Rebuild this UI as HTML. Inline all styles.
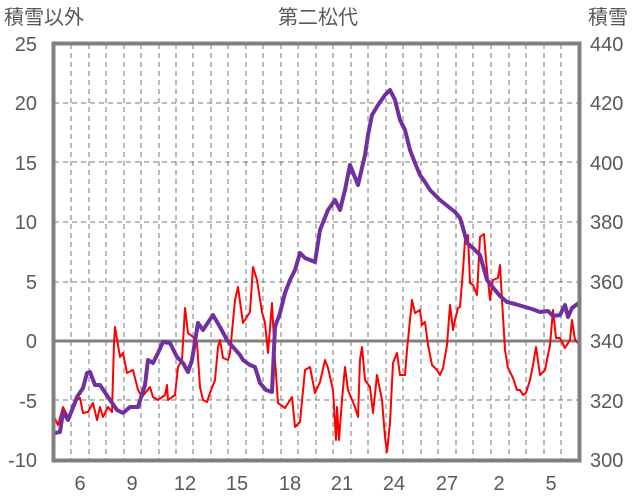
<!DOCTYPE html><html><head><meta charset="utf-8"><style>body{margin:0;background:#fff}svg{display:block}text{font-family:"Liberation Sans","Noto Sans CJK JP",sans-serif;fill:#595959}</style></head><body>
<svg width="636" height="501" viewBox="0 0 636 501">
<g stroke="#777" stroke-width="1" stroke-dasharray="5,4">
<line x1="71" y1="44" x2="71" y2="460"/><line x1="89" y1="44" x2="89" y2="460"/><line x1="106" y1="44" x2="106" y2="460"/><line x1="124" y1="44" x2="124" y2="460"/><line x1="141" y1="44" x2="141" y2="460"/><line x1="159" y1="44" x2="159" y2="460"/><line x1="176" y1="44" x2="176" y2="460"/><line x1="193" y1="44" x2="193" y2="460"/><line x1="211" y1="44" x2="211" y2="460"/><line x1="228" y1="44" x2="228" y2="460"/><line x1="246" y1="44" x2="246" y2="460"/><line x1="263" y1="44" x2="263" y2="460"/><line x1="281" y1="44" x2="281" y2="460"/><line x1="298" y1="44" x2="298" y2="460"/><line x1="316" y1="44" x2="316" y2="460"/><line x1="333" y1="44" x2="333" y2="460"/><line x1="351" y1="44" x2="351" y2="460"/><line x1="368" y1="44" x2="368" y2="460"/><line x1="386" y1="44" x2="386" y2="460"/><line x1="403" y1="44" x2="403" y2="460"/><line x1="421" y1="44" x2="421" y2="460"/><line x1="438" y1="44" x2="438" y2="460"/><line x1="456" y1="44" x2="456" y2="460"/><line x1="473" y1="44" x2="473" y2="460"/><line x1="491" y1="44" x2="491" y2="460"/><line x1="509" y1="44" x2="509" y2="460"/><line x1="526" y1="44" x2="526" y2="460"/><line x1="544" y1="44" x2="544" y2="460"/><line x1="561" y1="44" x2="561" y2="460"/>
<line x1="54" y1="103" x2="580" y2="103"/><line x1="54" y1="162" x2="580" y2="162"/><line x1="54" y1="222" x2="580" y2="222"/><line x1="54" y1="282" x2="580" y2="282"/><line x1="54" y1="400" x2="580" y2="400"/>
</g>
<line x1="54" y1="341" x2="580" y2="341" stroke="#808080" stroke-width="3"/>
<polyline fill="none" stroke="#ff0000" stroke-width="2" stroke-linejoin="round" points="53,415 58,425 63,407 68,417 73,410 77,400 80,398 83,413 88,412 93,403 97,420 100,407 103,417 108,407 112,412 114,343 115,327 118,345 120,357 123,353 127,373 133,370 138,390 142,397 150,387 153,397 158,400 165,395 167,385 168,400 175,395 178,367 182,360 185,308 188,333 193,337 197,343 200,387 203,400 207,402 210,393 215,380 218,347 220,340 223,358 228,360 230,353 235,300 238,287 243,323 250,312 253,267 257,280 262,312 265,323 268,353 272,303 275,360 278,403 285,408 292,397 295,427 300,422 305,370 310,367 315,393 320,382 325,360 328,368 333,390 336,440 337,407 339,440 342,400 345,367 348,390 355,407 358,417 360,360 362,347 365,380 370,387 373,413 377,375 382,400 385,437 387,452 390,423 393,363 397,353 400,375 405,375 407,350 412,300 415,313 420,310 422,325 425,322 428,345 432,365 437,370 440,375 443,368 447,345 450,305 453,330 455,320 458,308 460,307 463,270 465,240 468,235 470,283 473,285 477,295 480,237 484,234 486,260 490,300 493,280 498,278 500,265 502,300 505,350 508,368 513,378 517,390 520,390 523,395 526,393 530,380 533,365 536,347 540,375 545,370 550,345 553,310 556,338 560,338 565,348 570,340 572,320 575,340 580,345"/>
<polyline fill="none" stroke="#7030a0" stroke-width="4" stroke-linejoin="round" points="55,433 60,432 63,412 68,420 72,410 77,397 83,388 87,373 90,372 95,385 100,385 108,397 117,410 123,413 130,407 138,407 145,385 148,360 153,363 158,353 163,342 170,343 177,357 183,363 188,372 192,360 198,323 203,330 213,315 220,327 227,340 233,347 240,355 243,360 250,365 255,367 260,383 266,390 272,392 275,327 280,313 285,293 290,280 295,270 300,253 305,258 315,262 320,230 328,210 335,200 340,210 345,190 350,165 358,185 365,155 368,135 372,115 378,105 385,95 390,90 395,100 400,120 405,130 410,150 415,163 420,175 425,182 430,190 435,195 440,200 450,208 455,212 460,218 463,228 467,243 473,248 480,255 487,280 495,290 500,296 507,302 515,304 525,307 532,309 540,312 548,311 553,316 560,315 565,305 568,317 572,308 580,302"/>
<rect x="53.5" y="43.5" width="526" height="417" fill="none" stroke="#808080" stroke-width="4"/>
<g font-size="20" text-anchor="end">
<text x="37" y="51">25</text><text x="37" y="110">20</text><text x="37" y="170">15</text><text x="37" y="229">10</text><text x="37" y="289">5</text><text x="37" y="348">0</text><text x="37" y="408">-5</text><text x="37" y="467">-10</text>
</g>
<g font-size="20" text-anchor="start">
<text x="590" y="51">440</text><text x="590" y="110">420</text><text x="590" y="170">400</text><text x="590" y="229">380</text><text x="590" y="289">360</text><text x="590" y="348">340</text><text x="590" y="408">320</text><text x="590" y="467">300</text>
</g>
<g font-size="20" text-anchor="middle">
<text x="80" y="490">6</text><text x="132" y="490">9</text><text x="185" y="490">12</text><text x="237" y="490">15</text><text x="290" y="490">18</text><text x="342" y="490">21</text><text x="394" y="490">24</text><text x="447" y="490">27</text><text x="499" y="490">2</text><text x="551" y="490">5</text>
</g>
<text x="4" y="24" font-size="20">積雪以外</text>
<text x="318" y="24" font-size="20" text-anchor="middle">第二松代</text>
<text x="588" y="24" font-size="20">積雪</text>
</svg></body></html>
